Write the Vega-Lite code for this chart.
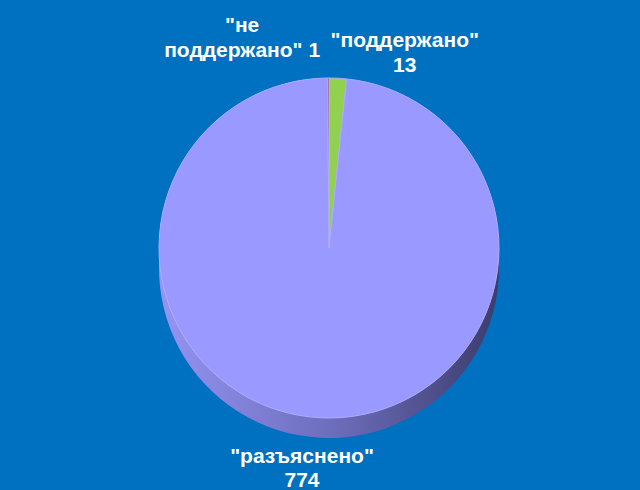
{
  "$schema": "https://vega.github.io/schema/vega-lite/v6.json",
  "autosize": {"type": "fit", "contains": "padding"},
  "width": 640,
  "height": 490,
  "padding": {"left": 18, "right": 0, "top": 6, "bottom": 0},
  "background": "#0070C0",
  "config": {"view": {"stroke": null}},
  "data": {
    "values": [
      {"category": "поддержано", "label": "\"поддержано\"\n13", "value": 13, "order": 1},
      {"category": "разъяснено", "label": "\"разъяснено\"\n774", "value": 774, "order": 2},
      {"category": "не поддержано", "label": "\"не\nподдержано\" 1", "value": 1, "order": 3}
    ]
  },
  "encoding": {
    "theta": {"field": "value", "type": "quantitative", "stack": true},
    "order": {"field": "order", "type": "quantitative"}
  },
  "layer": [
    {
      "mark": {
        "type": "arc",
        "outerRadius": 170,
        "yOffset": 20,
        "fill": {
          "gradient": "linear",
          "x1": 0, "y1": 0, "x2": 1, "y2": 0,
          "stops": [
            {"offset": 0, "color": "#9494F2"},
            {"offset": 0.5, "color": "#6E6EBE"},
            {"offset": 1, "color": "#3C3C6C"}
          ]
        }
      }
    },
    {
      "mark": {"type": "arc", "outerRadius": 170, "stroke": "#AEAEFF", "strokeWidth": 1},
      "encoding": {
        "color": {
          "field": "category",
          "type": "nominal",
          "scale": {
            "domain": ["поддержано", "разъяснено", "не поддержано"],
            "range": ["#92D050", "#9999FF", "#9B1B30"]
          },
          "legend": null
        }
      }
    },
    {
      "mark": {"type": "text", "radius": 207, "dx": 65, "align": "center", "baseline": "middle", "lineBreak": "\n", "lineHeight": 25, "font": "Liberation Sans", "fontSize": 21, "fontWeight": "bold", "color": "white"},
      "encoding": {
        "text": {"condition": {"test": "datum.category === 'поддержано'", "field": "label"}, "value": ""}
      }
    },
    {
      "mark": {"type": "text", "radius": 222, "dx": -86, "align": "center", "baseline": "middle", "lineBreak": "\n", "lineHeight": 25, "font": "Liberation Sans", "fontSize": 21, "fontWeight": "bold", "color": "white"},
      "encoding": {
        "text": {"condition": {"test": "datum.category === 'не поддержано'", "field": "label"}, "value": ""}
      }
    },
    {
      "mark": {"type": "text", "radius": 209, "dx": -17, "align": "center", "baseline": "middle", "lineBreak": "\n", "lineHeight": 24, "font": "Liberation Sans", "fontSize": 21, "fontWeight": "bold", "color": "white"},
      "encoding": {
        "text": {"condition": {"test": "datum.category === 'разъяснено'", "field": "label"}, "value": ""}
      }
    }
  ]
}
